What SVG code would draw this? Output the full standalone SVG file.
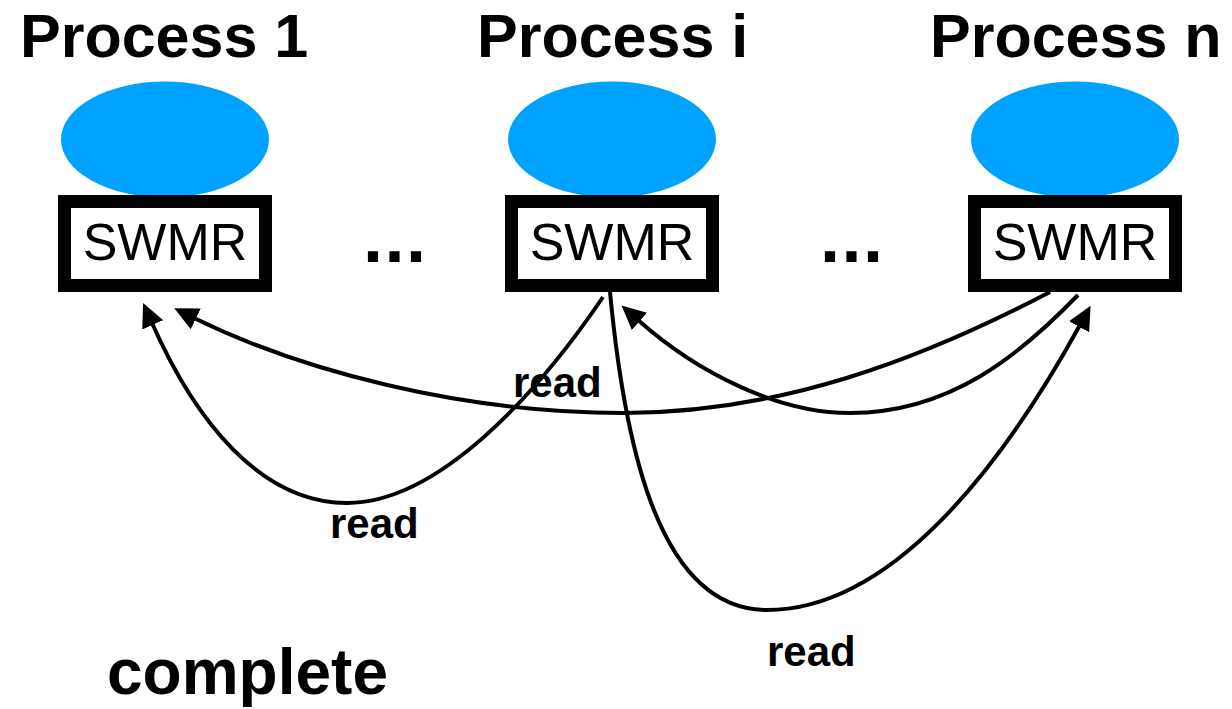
<svg xmlns="http://www.w3.org/2000/svg" width="1232" height="709" viewBox="0 0 1232 709">
  <style>
    .title { font-family: "Liberation Sans", Arial, sans-serif; font-weight: bold; font-size: 61px; fill: #000; }
    .buf { fill: #00a2ff; }
    .box { fill: #fff; stroke: #000; stroke-width: 13; }
    .boxlabel { font-family: "Liberation Sans", Arial, sans-serif; font-size: 52px; fill: #000; text-anchor: middle; }
    .dots { font-family: "Liberation Sans", Arial, sans-serif; font-weight: bold; font-size: 72px; fill: #000; letter-spacing: 1.5px; }
    .edge { fill: none; stroke: #000; stroke-width: 4; marker-end: url(#head); }
    .elabel { font-family: "Liberation Sans", Arial, sans-serif; font-weight: bold; font-size: 42px; fill: #000; }
    .caption { font-family: "Liberation Sans", Arial, sans-serif; font-weight: bold; font-size: 64px; fill: #000; }
  </style>
  <defs>
    <marker id="head" markerUnits="userSpaceOnUse" viewBox="0 0 24 23" refX="2" refY="11.5" markerWidth="24" markerHeight="23" orient="auto">
      <path d="M0,0 L24,11.5 L0,23 z" fill="#000"/>
    </marker>
  </defs>

  <rect width="1232" height="709" fill="#fff"/>

  <g id="process-1">
    <text class="title" x="20" y="57">Process 1</text>
    <ellipse class="buf" cx="165" cy="139.5" rx="104" ry="58"/>
    <rect class="box" x="64.5" y="201.5" width="201" height="84"/>
    <text class="boxlabel" x="165" y="260">SWMR</text>
  </g>

  <g id="process-i">
    <text class="title" x="477" y="57">Process i</text>
    <ellipse class="buf" cx="612" cy="139.5" rx="104" ry="58"/>
    <rect class="box" x="511.5" y="201.5" width="201" height="84"/>
    <text class="boxlabel" x="612" y="260">SWMR</text>
  </g>

  <g id="process-n">
    <text class="title" x="930" y="57">Process n</text>
    <ellipse class="buf" cx="1075" cy="139.5" rx="104" ry="58"/>
    <rect class="box" x="974.5" y="201.5" width="201" height="84"/>
    <text class="boxlabel" x="1075" y="260">SWMR</text>
  </g>

  <g id="ellipsis">
    <text class="dots" x="363" y="262">...</text>
    <text class="dots" x="820" y="262">...</text>
  </g>

  <g id="connectors">
    <!-- i reads from 1 -->
    <path class="edge" d="M603,297 C540,390 440,503 347,503 C260,503 195,420 152,323"/>
    <!-- n reads from 1 -->
    <path class="edge" d="M1050,292 C920,360 780,413 623,413 C460,413 300,370 194,318"/>
    <!-- n reads from i -->
    <path class="edge" d="M1078,295 C1020,355 950,413 850,413 C780,413 700,375 638,320"/>
    <!-- i reads from n -->
    <path class="edge" d="M610,292 C625,450 660,610 767,610 C890,610 1000,470 1080,325"/>
    <text class="elabel" x="513" y="397">read</text>
    <text class="elabel" x="330" y="538">read</text>
    <text class="elabel" x="767" y="666">read</text>
  </g>

  <text id="caption" class="caption" x="107" y="694">complete</text>
</svg>
